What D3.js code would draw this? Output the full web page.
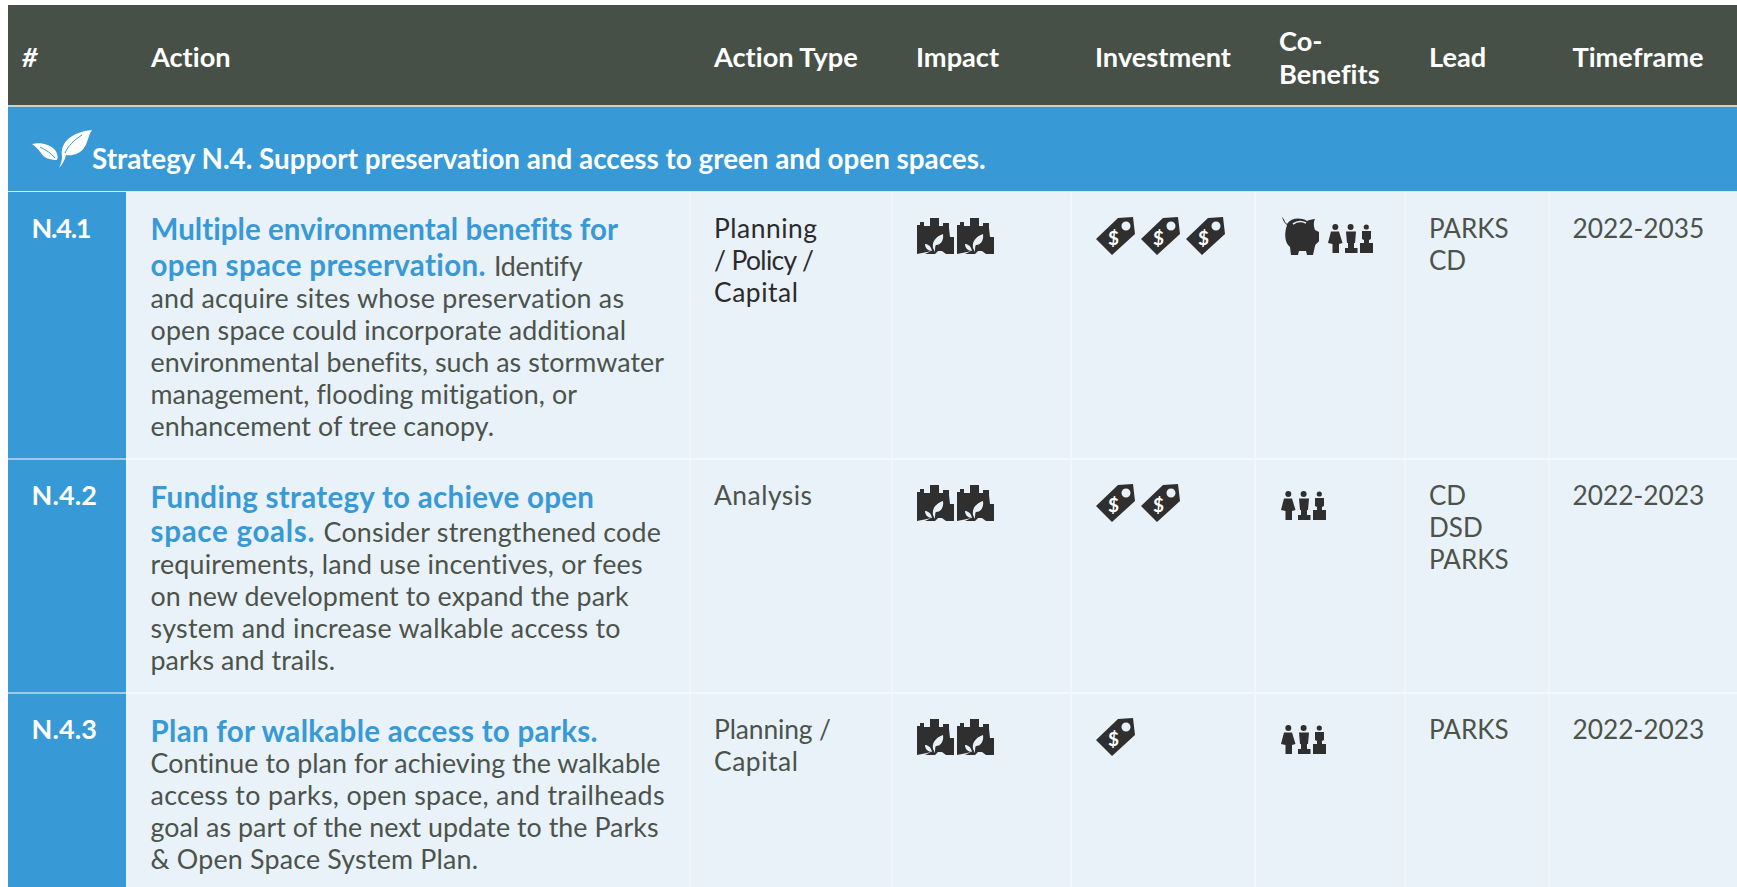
<!DOCTYPE html>
<html>
<head>
<meta charset="utf-8">
<script src="https://cdn.jsdelivr.net/npm/d3@7"></script>
<style>
    html, body { margin: 0; padding: 0; background: #fff; }
    svg { display: block; }
    text { font-family: Lato, "Open Sans", sans-serif; font-variant-ligatures: none; }
</style>
</head>
<body>
<div id="chart"></div>
<script>
// table content
const headers = ["#", "Action", "Action Type", "Impact", "Investment", ["Co-", "Benefits"], "Lead", "Timeframe"];
const strategyTitle = "Strategy N.4. Support preservation and access to green and open spaces.";
const actionIds = ["N.4.1", "N.4.2", "N.4.3"];
const actionTitles = [
    ["Multiple environmental benefits for", "open space preservation."],
    ["Funding strategy to achieve open", "space goals."],
    ["Plan for walkable access to parks."]
];
const actionRunIns = ["Identify", "Consider strengthened code", ""];
const actionBodies = [
    ["and acquire sites whose preservation as", "open space could incorporate additional", "environmental benefits, such as stormwater", "management, flooding mitigation, or", "enhancement of tree canopy."],
    ["requirements, land use incentives, or fees", "on new development to expand the park", "system and increase walkable access to", "parks and trails."],
    ["Continue to plan for achieving the walkable", "access to parks, open space, and trailheads", "goal as part of the next update to the Parks", "& Open Space System Plan."]
];
const actionTypes = [["Planning", "/ Policy /", "Capital"], ["Analysis"], ["Planning /", "Capital"]];
const impactCounts = [2, 2, 2];
const investmentCounts = [3, 2, 1];
const coBenefits = [["piggy", "people"], ["people"], ["people"]];
const leads = [["PARKS", "CD"], ["CD", "DSD", "PARKS"], ["PARKS"]];
const timeframes = ["2022-2035", "2022-2023", "2022-2023"];

// layout
const width = 1737, height = 887;
const colEdges = [8, 126, 690, 892, 1071, 1255, 1405, 1549, 1737];
const rowTops = [192, 459, 693];
const rowBottoms = [459, 693, 887];
const colPad = [24, 25, 24, 24, 24, 24, 24, 23.5];

// where each wrapped line ends, the substitute font runs a little different
const idRight = [91.5, 97, 97];
const titleRight = [[618, 485.5], [594, 314.5], [597.5]];
const runInX = [494, 323.5, 0];
const runInRight = [582.5, 661, 0];
const bodyRight = [[624, 626, 664, 577, 494], [642.5, 628.5, 620.5, 335], [660.5, 664.5, 658.5, 478]];
const typeRight = [[817, 814, 798], [812], [831, 798]];

const colors = {
    header: "#475047", blue: "#3799d6", cell: "#e9f1f9", body: "#4b534b",
    dark: "#2f2f2f", line: "#f6f9fc", idLine: "#9fcbeb"
};

const columnX = d3.scaleOrdinal().domain(d3.range(colEdges.length)).range(colEdges);
const rowTop = id => rowTops[actionIds.indexOf(id)];
const rowBottom = id => rowBottoms[actionIds.indexOf(id)];

const svg = d3.select("#chart").append("svg")
    .attr("width", width).attr("height", height);

// squeeze or stretch a text line so that it ends at the given x
function fitTo(sel, x, right) {
    sel.attr("x", x).attr("textLength", right - x).attr("lengthAdjust", "spacing");
    return sel;
}

// header band
svg.append("rect").attr("x", 8).attr("y", 5).attr("width", width - 8).attr("height", 101).attr("fill", colors.header);
svg.append("rect").attr("x", 8).attr("y", 105).attr("width", width - 8).attr("height", 2).attr("fill", "#c9d0cb");
svg.append("rect").attr("x", 8).attr("y", 107).attr("width", width - 8).attr("height", 84).attr("fill", colors.blue);
svg.append("rect").attr("x", 8).attr("y", 191).attr("width", width - 8).attr("height", 1).attr("fill", "#d5e6f4");

const headerCells = svg.append("g").selectAll("text").data(headers).join("text")
    .attr("fill", "#fff")
    .attr("font-size", 27.2)
    .attr("font-weight", 700)
    .attr("font-style", (d, i) => i === 0 ? "italic" : "normal");
headerCells.each(function(d, i) {
    const lines = Array.isArray(d) ? d : [d];
    d3.select(this).selectAll("tspan").data(lines).join("tspan")
        .attr("x", i === 0 ? 22 : columnX(i) + colPad[i])
        .attr("y", (l, j) => lines.length > 1 ? 51 + j * 33 : 67)
        .text(l => l);
});

// strategy band
const leaf = svg.append("g").attr("fill", "#fff");
leaf.append("path").attr("d", "M62 156C60 142 72 132 92 130C88 136 88 142 84 148C80 154 72 156 66 155C65 160 62 165 59 168C61 164 62 160 62 156Z");
leaf.append("path").attr("d", "M32 144C40 142 50 144 55 150C58 154 58 158 57 160C50 160 44 158 41 153C38 149 36 147 32 144Z");
leaf.append("path").attr("fill", "none").attr("stroke", colors.blue).attr("stroke-width", 1)
    .attr("d", "M65 153C68 146 74 140 82 135M55 158C51 153 46 150 40 147");
svg.append("text").attr("x", 92).attr("y", 169)
    .attr("fill", "#fff").attr("font-size", 27.8).attr("font-weight", 700)
    .text(strategyTitle);

// rows
const rows = svg.append("g").selectAll("g").data(actionIds).join("g");
rows.append("rect")
    .attr("x", 8).attr("y", rowTop).attr("height", d => rowBottom(d) - rowTop(d))
    .attr("width", colEdges[1] - 8).attr("fill", colors.blue);
rows.append("rect")
    .attr("x", colEdges[1]).attr("y", rowTop).attr("height", d => rowBottom(d) - rowTop(d))
    .attr("width", width - colEdges[1]).attr("fill", colors.cell);

// row dividers
svg.append("g").selectAll("rect").data(rowTops.slice(1)).join("rect")
    .attr("x", colEdges[1]).attr("y", d => d - 1).attr("width", width - colEdges[1]).attr("height", 2)
    .attr("fill", colors.line);
svg.append("g").selectAll("rect").data(rowTops.slice(1)).join("rect")
    .attr("x", 8).attr("y", d => d - 1).attr("width", colEdges[1] - 8).attr("height", 2)
    .attr("fill", colors.idLine);

// column dividers
svg.append("g").selectAll("rect").data(colEdges.slice(2, 8)).join("rect")
    .attr("x", d => d - 0.5).attr("y", 192).attr("width", 1.2).attr("height", height - 192)
    .attr("fill", colors.line);

// id column
rows.append("text")
    .attr("y", d => rowTop(d) + 46)
    .attr("fill", "#fff").attr("font-size", 27).attr("font-weight", 700)
    .text(d => d)
    .call(sel => sel.each(function(d, r) { fitTo(d3.select(this), 31.5, idRight[r]); }));

// action column: blue title, then grey copy
const titleBaselines = [[240, 276], [508, 542], [742]];
const bodyStart = [308, 574, 773];
const bodySize = 26.8, lineStep = 32;
const actionX = columnX(1) + 24.5;
rows.each(function(id, r) {
    const g = d3.select(this);
    actionTitles[r].forEach((line, j) => {
        const y = titleBaselines[r][j];
        fitTo(g.append("text").attr("y", y).attr("font-size", 29.5)
            .attr("fill", colors.blue).attr("font-weight", 700).text(line), actionX, titleRight[r][j]);
        if (j === actionTitles[r].length - 1 && actionRunIns[r]) {
            fitTo(g.append("text").attr("y", y).attr("font-size", bodySize)
                .attr("fill", colors.body).text(actionRunIns[r]), runInX[r], runInRight[r]);
        }
    });
    g.append("g").selectAll("text").data(actionBodies[r]).join("text")
        .attr("y", (d, j) => bodyStart[r] + j * lineStep)
        .attr("fill", colors.body).attr("font-size", bodySize)
        .text(d => d)
        .each(function(d, j) { fitTo(d3.select(this), actionX, bodyRight[r][j]); });
});

// plain text columns
function textColumn(col, values, fill, size, rights) {
    rows.each(function(id, r) {
        const lines = Array.isArray(values[r]) ? values[r] : [values[r]];
        const x = columnX(col) + colPad[col];
        d3.select(this).append("g").selectAll("text").data(lines).join("text")
            .attr("x", x)
            .attr("y", (d, j) => rowTop(id) + 46 + j * lineStep)
            .attr("fill", fill(r)).attr("font-size", size)
            .text(d => d)
            .each(function(d, j) { if (rights) fitTo(d3.select(this), x, rights[r][j]); });
    });
}
textColumn(2, actionTypes, r => r === 0 ? "#2b2b2b" : colors.body, 26.4, typeRight);
textColumn(6, leads, () => colors.body, 26);
textColumn(7, timeframes, () => colors.body, 26.3);

// icons, drawn in a local box and placed by translate
function drawImpact(g) {
    g.append("path").attr("fill", colors.dark)
        .attr("d", "M0 36V7H3V4H7V8H13V0H22V8H26V5H32V10L33 19H37V36H29L25 33H21L18 36Z");
    g.append("path").attr("fill", colors.cell)
        .attr("d", "M16 30C15 24 18 19 26 16C27 22 24 27 19 27C18 28 18 31 18 34ZM15 33C14 28 11 26 8 26C8 30 11 33 15 33Z");
    g.append("path").attr("fill", colors.cell)
        .attr("d", "M0 36H8L14 33L10 34Z");
}
function drawTag(g) {
    g.append("path").attr("fill", colors.dark).attr("fill-rule", "evenodd")
        .attr("d", "M0 22L22 1L37 0L39 17L16 38ZM30 4.5A4.5 4.5 0 1 0 30 13.5A4.5 4.5 0 1 0 30 4.5Z");
    g.append("text").attr("x", 17.5).attr("y", 27.5).attr("text-anchor", "middle")
        .attr("font-size", 19).attr("font-weight", 700).attr("fill", "#fff").text("$");
}
function drawPiggy(g) {
    g.append("path").attr("fill", colors.dark)
        .attr("d", "M3 5C2 2 1 1 0 0C1 3 2 6 5 8C3 14 2 22 6 28L8 30L9 38H16L17 34H24L25 38H31L33 29C34 26 36 26 37 24V15L33 13C32 10 31 6 33 2C30 2 27 3 25 4C18 0 9 1 5 7Z");
    g.append("path").attr("fill", "none").attr("stroke", colors.cell).attr("stroke-width", 1.6)
        .attr("d", "M11 7C15 4 20 4 24 6");
}
function drawPeople(g) {
    const heads = [[7.3, 3], [22.6, 3], [38.3, 2.6]];
    g.selectAll("circle").data(heads).join("circle")
        .attr("cx", d => d[0]).attr("cy", 3).attr("r", d => d[1]).attr("fill", colors.dark);
    g.append("path").attr("fill", colors.dark)
        .attr("d", "M3 7.5H11L14.5 19L11 20V29H4.5V20L0 19ZM18 7.5H28L27 19H26V24H29.5V29H17V24H20V19H19ZM34 7H43V15L41 16V19H45V29H32V19H36V16L34 15Z");
}
const iconDraw = { piggy: drawPiggy, people: drawPeople };

const impactStep = d3.scaleLinear().domain([0, 1]).range([917, 957]);
const investStep = d3.scaleLinear().domain([0, 1]).range([1096, 1141]);
rows.each(function(id, r) {
    const g = d3.select(this);
    const top = rowTop(id);
    d3.range(impactCounts[r]).forEach(i => {
        drawImpact(g.append("g").attr("transform", `translate(${impactStep(i)},${top + 26})`));
    });
    d3.range(investmentCounts[r]).forEach(i => {
        drawTag(g.append("g").attr("transform", `translate(${investStep(i)},${top + 25})`));
    });
    const list = coBenefits[r];
    list.forEach(k => {
        const withPig = list.length > 1;
        const x = k === "piggy" ? 1282 : (withPig ? 1328 : 1281);
        const dy = k === "piggy" ? 25 : 32;
        iconDraw[k](g.append("g").attr("transform", `translate(${x},${top + dy})`));
    });
});
</script>
</body>
</html>
